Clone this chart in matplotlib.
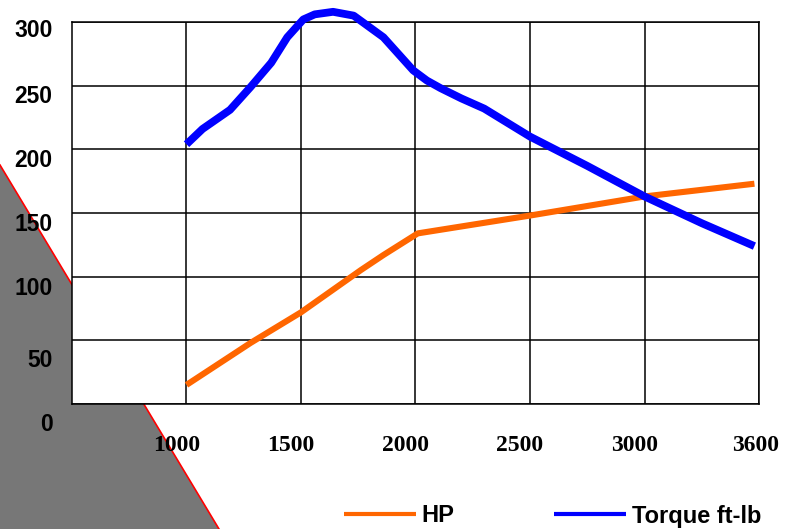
import matplotlib
matplotlib.use("Agg")
import matplotlib.pyplot as plt
from matplotlib.patches import Polygon
from matplotlib.lines import Line2D
from matplotlib.transforms import ScaledTranslation

# engine curves
torque_rpm = [1000, 1070, 1190, 1280, 1370, 1440, 1510, 1560, 1640, 1730, 1860, 1990, 2050, 2110, 2200, 2300, 2400, 2500, 2750, 3000, 3250, 3480]
torque = [204, 216, 231, 249, 268, 288, 302, 306, 308, 305, 288, 262, 254, 248, 240, 232, 221, 210, 187, 163, 142, 124]

hp_rpm = [1000, 1280, 1500, 1760, 1860, 2010, 2500, 3000, 3480]
hp = [15, 48, 72, 105, 117, 134, 148, 163, 173]

x_ticks = [1000, 1500, 2000, 2500, 3000, 3500]
x_labels = ["1000", "1500", "2000", "2500", "3000", "3600"]
y_ticks = [0, 50, 100, 150, 200, 250, 300]

W, H = 799, 529
fig = plt.figure(figsize=(W / 100, H / 100), dpi=100)

# grey wedge behind the plot, bottom left
wedge = Polygon([(0, 1 - 165 / H), (219 / W, 0), (0, 0)], closed=True,
                transform=fig.transFigure, facecolor="#777777",
                edgecolor="none", zorder=-2)
fig.patches.append(wedge)
edge = Line2D([0, 219 / W], [1 - 165 / H, 0], transform=fig.transFigure,
              color="#ff0000", linewidth=1.2, zorder=-1)
fig.lines.append(edge)

ax = fig.add_axes([72 / W, 1 - 404 / H, (759 - 72) / W, (404 - 22) / H])
ax.set_facecolor("white")

ax.plot(hp_rpm, hp, color="#ff6600", linewidth=4.4, solid_capstyle="butt",
        label="HP", zorder=3, clip_on=False)
ax.plot(torque_rpm, torque, color="#0000ff", linewidth=5.6, solid_capstyle="butt",
        solid_joinstyle="round", label="Torque ft-lb", zorder=4, clip_on=False)

ax.set_xlim(500, 3500)
ax.set_ylim(0, 300)
ax.set_xticks(x_ticks)
ax.set_xticklabels(x_labels, fontfamily="Liberation Serif", fontweight="bold", fontsize=17)
ax.set_yticks(y_ticks)
ax.set_yticklabels([str(v) for v in y_ticks], fontfamily="Liberation Sans", fontweight="bold", fontsize=16.5)
ax.tick_params(axis="both", length=0)
ax.tick_params(axis="x", pad=22)
ax.tick_params(axis="y", pad=14)
ax.grid(True, color="black", linewidth=1.1)
ax.set_axisbelow(True)
for s in ax.spines.values():
    s.set_color("black")
    s.set_linewidth(1.1)

# labels in the original sit a bit off their gridlines
y_shift = {0: 18, 50: 18, 100: 9, 150: 9, 200: 9, 250: 8, 300: 6}
for v, lab in zip(y_ticks, ax.get_yticklabels()):
    lab.set_transform(lab.get_transform() + ScaledTranslation(0, -y_shift[v] / 100, fig.dpi_scale_trans))
for i, lab in enumerate(ax.get_xticklabels()):
    dx = -3 if i == len(x_ticks) - 1 else -10
    lab.set_transform(lab.get_transform() + ScaledTranslation(dx / 100, 0, fig.dpi_scale_trans))

leg = fig.legend(loc="center left", bbox_to_anchor=(332 / W, 1 - 516 / H), ncol=2,
                 frameon=False, borderpad=0, handlelength=3.05, handletextpad=0.25,
                 columnspacing=4.2, prop={"family": "Liberation Sans", "weight": "bold", "size": 17})
for line in leg.get_lines():
    line.set_linewidth(3)

fig.savefig("out.png", dpi=100)
